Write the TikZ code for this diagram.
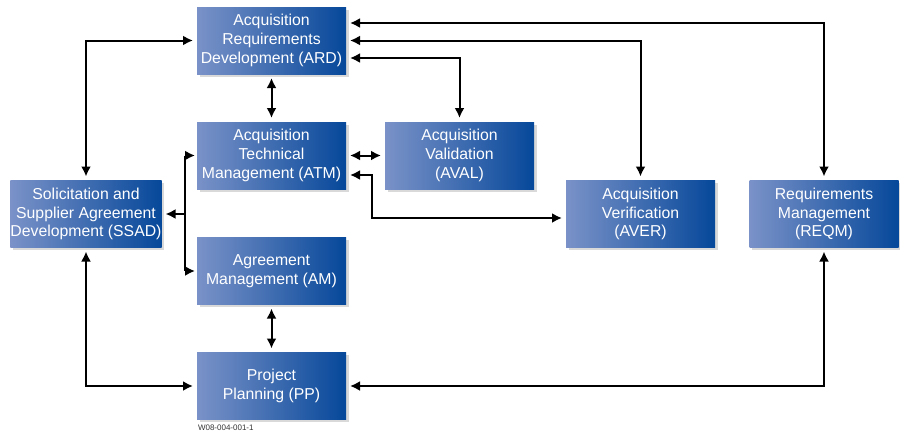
\documentclass[tikz,border=0pt]{standalone}
\usepackage{fontspec}
\setmainfont{Liberation Sans}
\usepackage{tikz}
\usetikzlibrary{arrows.meta,shapes}
\usetikzlibrary{positioning}
\usetikzlibrary{shadows}
\definecolor{boxleft}{RGB}{122,146,200}
\definecolor{boxright}{RGB}{6,72,154}
\tikzset{
  pa/.style={draw=none, left color=boxleft, right color=boxright, text=white,
    minimum width=149pt, minimum height=67pt, inner sep=0pt, align=center,
    font=\fontsize{15.8}{18.6}\selectfont,
    drop shadow={shadow xshift=2.5pt, shadow yshift=-2.5pt, opacity=0.25, fill=black!60}},
  link/.style={draw, <->, shorten <=3pt, shorten >=3pt},
  branch/.style={draw, ->, shorten >=1pt}
}
\begin{document}
\begin{tikzpicture}[x=1pt,y=-1pt,>={Latex[length=10pt,width=10pt]},line width=2pt]
\useasboundingbox (0,0) rectangle (900,434);
% process areas
\path node[pa] (ard) at (271.5,40.5) {Acquisition\\Requirements\\Development (ARD)};
\path node[pa] (atm) at (271.5,155.5) {Acquisition\\Technical\\Management (ATM)};
\path node[pa] (aval) at (459.5,155.5) {Acquisition\\Validation\\(AVAL)};
\path node[pa] (ssad) at (86,214) {Solicitation and\\Supplier Agreement\\Development (SSAD)};
\path node[pa] (aver) at (640.5,214) {Acquisition\\Verification\\(AVER)};
\path node[pa] (reqm) at (824,214) {Requirements\\Management\\(REQM)};
\path node[pa] (am) at (271.5,271) {Agreement\\Management (AM)};
\path node[pa] (pp) at (271.5,386) {Project\\Planning (PP)};
\path node[anchor=north west, inner sep=0pt, text=black!80, font=\fontsize{8}{9}\selectfont] (tag) at (197,424) {W08-004-001-1};
% links
\path[link] (ssad.north) |- (ard.west);
\path[link] (ard) -- (atm);
\path[link] ([yshift=-17.5pt]ard.east) -| (aval.north);
\path[link] (ard.east) -| (aver.north);
\path[link] ([yshift=17.5pt]ard.east) -| (reqm.north);
\path[link] (atm) -- (aval);
\path[link] ([yshift=-19.5pt]atm.east) -- ++(25,0) |- ([yshift=-4pt]aver.west);
\path[draw,<-,shorten <=3pt] (ssad.east) -- ++(22,0) coordinate (sb);
\path[branch] (sb |- atm.west) -- (atm.west);
\path[branch] (sb |- am.west) -- (am.west);
\path[draw] (sb |- atm.west) -- (sb |- am.west);
\path[link] (am) -- (pp);
\path[link] (ssad.south) |- (pp.west);
\path[link] (pp.east) -| (reqm.south);
\end{tikzpicture}
\end{document}
